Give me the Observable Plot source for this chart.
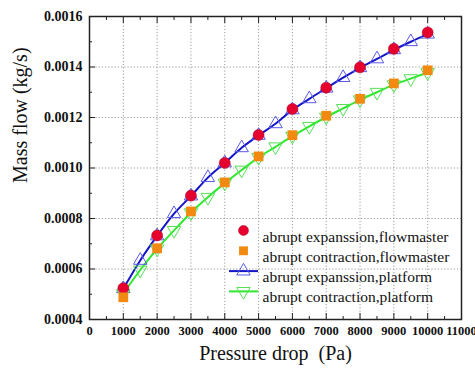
<!DOCTYPE html>
<html><head><meta charset="utf-8">
<script src="https://cdn.jsdelivr.net/npm/d3@7"></script>
<script src="https://cdn.jsdelivr.net/npm/@observablehq/plot@0.6"></script>
<style>body{margin:0;background:#fff}#chart{width:475px;height:374px;overflow:hidden}</style>
</head><body><div id="chart"></div>
<script>
// Flowmaster results (every 1000 Pa)
const fmPressure = [1000, 2000, 3000, 4000, 5000, 6000, 7000, 8000, 9000, 10000];
const expFlowmaster = [0.000524, 0.000733, 0.000891, 0.001020, 0.001131, 0.001234, 0.001318, 0.001399, 0.001472, 0.001537];
const conFlowmaster = [0.000488, 0.000682, 0.000828, 0.000943, 0.001046, 0.001130, 0.001207, 0.001274, 0.001335, 0.001387];
// Platform results (every 500 Pa)
const platPressure = [1000, 1500, 2000, 2500, 3000, 3500, 4000, 4500, 5000, 5500, 6000, 6500, 7000, 7500, 8000, 8500, 9000, 9500, 10000];
const expPlatform = [0.000522, 0.000634, 0.000731, 0.000819, 0.000889, 0.000962, 0.001020, 0.001080, 0.001129, 0.001175, 0.001230, 0.001274, 0.001316, 0.001358, 0.001397, 0.001432, 0.001468, 0.001500, 0.001530];
const conPlatform = [0.000503, 0.000596, 0.000680, 0.000753, 0.000823, 0.000884, 0.000940, 0.000992, 0.001042, 0.001084, 0.001126, 0.001165, 0.001202, 0.001236, 0.001270, 0.001300, 0.001330, 0.001354, 0.001378];
// Axes
const xTicks = [0, 1000, 2000, 3000, 4000, 5000, 6000, 7000, 8000, 9000, 10000, 11000];
const xMinor = [500, 1500, 2500, 3500, 4500, 5500, 6500, 7500, 8500, 9500, 10500];
const xGrid = [1000, 2000, 3000, 4000, 5000, 6000, 7000, 8000, 9000, 10000];
const yTicks = [0.0004, 0.0006, 0.0008, 0.0010, 0.0012, 0.0014, 0.0016];
const yMinor = [0.0005, 0.0007, 0.0009, 0.0011, 0.0013, 0.0015];
const yGrid = [0.0006, 0.0008, 0.0010, 0.0012, 0.0014];
const legendLabels = ["abrupt expanssion,flowmaster", "abrupt contraction,flowmaster", "abrupt expanssion,platform", "abrupt contraction,platform"];

const fm = fmPressure.map((p, i) => ({p, exp: expFlowmaster[i], con: conFlowmaster[i]}));
const pl = platPressure.map((p, i) => ({p, exp: expPlatform[i], con: conPlatform[i]}));

const RED = "#e5002d", ORANGE = "#f28a12", BLUE = "#1414c8", BLUE_T = "#5a5ae6", GREEN = "#2ee82e", GREEN_T = "#55e055";
const serif = "'Liberation Serif', 'Times New Roman', serif";
const lineSym = {draw(ctx) { ctx.moveTo(-14.5, 0); ctx.lineTo(14.5, 0); }};

const legendMarks = [];
const legStyles = [
  [{symbol: "circle", fill: RED, stroke: "#b0002a", strokeWidth: 0.5}],
  [{symbol: "square", fill: ORANGE, stroke: "none"}],
  [{symbol: lineSym, stroke: BLUE, strokeWidth: 2, fill: "none"}, {symbol: "triangle", stroke: BLUE_T, fill: "none", strokeWidth: 1}],
  [{symbol: lineSym, stroke: GREEN, strokeWidth: 2, fill: "none"}, {symbol: "triangle", rotate: 180, stroke: GREEN_T, fill: "none", strokeWidth: 1}]
];
legendLabels.forEach((lab, i) => {
  const dy = 214 + i * 20.3;
  for (const s of legStyles[i]) legendMarks.push(Plot.dot([lab], {frameAnchor: "top-left", dx: 154, dy, r: 5, ...s}));
  legendMarks.push(Plot.text([lab], {frameAnchor: "top-left", dx: 173, dy, text: d => d, textAnchor: "start", fontSize: 15.5, fill: "#111"}));
});

const chart = Plot.plot({
  width: 475, height: 374,
  marginLeft: 89, marginRight: 14, marginTop: 16, marginBottom: 55,
  style: {fontFamily: serif, background: "white", color: "#111"},
  x: {domain: [0, 11000]},
  y: {domain: [0.0004, 0.0016]},
  marks: [
    Plot.gridX(xGrid, {stroke: "#9a9a9a", strokeOpacity: 1, strokeDasharray: "1.2,2"}),
    Plot.gridY(yGrid, {stroke: "#9a9a9a", strokeOpacity: 1, strokeDasharray: "1.2,2"}),
    // inward ticks
    Plot.axisX(xTicks, {tickSize: -6, fill: "none", label: null, stroke: "#222"}),
    Plot.axisX(xMinor, {tickSize: -3, fill: "none", label: null, stroke: "#222"}),
    Plot.axisX(xTicks, {anchor: "top", tickSize: -6, fill: "none", label: null, stroke: "#222"}),
    Plot.axisX(xMinor, {anchor: "top", tickSize: -3, fill: "none", label: null, stroke: "#222"}),
    Plot.axisY(yTicks, {tickSize: -6, fill: "none", label: null, stroke: "#222"}),
    Plot.axisY(yMinor, {tickSize: -3, fill: "none", label: null, stroke: "#222"}),
    // tick labels
    Plot.axisX(xTicks, {tickSize: 0, tickPadding: 7, tickFormat: d3.format("d"), fontWeight: "bold", fontSize: 12.5, label: null, fill: "#111"}),
    Plot.axisY(yTicks, {tickSize: 0, tickPadding: 7, tickFormat: d3.format(".4f"), fontWeight: "bold", fontSize: 14, label: null, fill: "#111"}),
    Plot.frame({stroke: "#222", strokeWidth: 1.5}),
    // platform curves
    Plot.line(pl, {x: "p", y: "exp", stroke: BLUE, strokeWidth: 2, curve: "monotone-x"}),
    Plot.line(pl, {x: "p", y: "con", stroke: GREEN, strokeWidth: 2, curve: "monotone-x"}),
    Plot.dot(pl, {x: "p", y: "exp", symbol: "triangle", r: 5, stroke: BLUE_T, fill: "none", strokeWidth: 1}),
    Plot.dot(pl, {x: "p", y: "con", symbol: "triangle", rotate: 180, r: 5, stroke: GREEN_T, fill: "none", strokeWidth: 1}),
    // flowmaster points
    Plot.dot(fm, {x: "p", y: "exp", symbol: "circle", r: 5.5, fill: RED, stroke: "#a80028", strokeWidth: 0.5}),
    Plot.dot(fm, {x: "p", y: "con", symbol: "square", r: 5.5, fill: ORANGE, stroke: "none"}),
    ...legendMarks,
    // axis titles
    Plot.text(["Mass flow (kg/s)"], {frameAnchor: "left", rotate: -90, dx: -69, dy: 15, text: d => d, fontSize: 20, fill: "#111"}),
    Plot.text(["Pressure drop  (Pa)"], {frameAnchor: "bottom", dy: 40, text: d => d, fontSize: 20, fill: "#111"})
  ]
});
document.getElementById("chart").append(chart);
</script>
</body></html>
